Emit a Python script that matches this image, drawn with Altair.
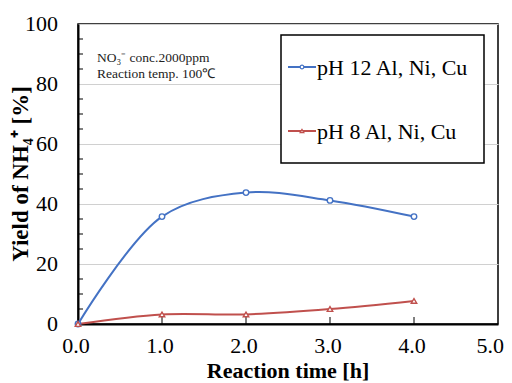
import altair as alt
import pandas as pd

# ---- data ----
time_h = [0, 1, 2, 3, 4]
ph12 = [0.0, 35.8, 43.8, 41.2, 35.8]
ph8 = [0.0, 3.2, 3.2, 5.0, 7.7]
series = ["pH 12 Al, Ni, Cu", "pH 8 Al, Ni, Cu"]
x_ticks = [0, 1, 2, 3, 4, 5]
x_inner_ticks = [1, 2, 3, 4]
y_ticks = [0, 20, 40, 60, 80, 100]
y_minor = [5, 10, 15, 25, 30, 35, 45, 50, 55, 65, 70, 75, 85, 90, 95]
note_lines = ["NO\u2083\u207b conc.2000ppm", "Reaction temp. 100\u2103"]
x_title = "Reaction time [h]"
y_title = "Yield of NH\u2084\u207a [%]"

colors = ["#4472C4", "#C0504D"]
shapes = ["circle", "triangle-up"]
SERIF = "Liberation Serif"

df = pd.DataFrame({
    "t": time_h * 2,
    "y": ph12 + ph8,
    "s": [series[0]] * len(time_h) + [series[1]] * len(time_h),
})

xscale = alt.Scale(domain=[0, 5], nice=False, zero=False)
yscale = alt.Scale(domain=[0, 100], nice=False)

axis_common = dict(labels=False, ticks=False, title=None, domainColor="black", domainWidth=2)


def x_enc():
    return alt.X("t:Q", scale=xscale, axis=alt.Axis(values=x_ticks, grid=False, **axis_common))


def y_enc():
    return alt.Y("y:Q", scale=yscale, axis=alt.Axis(values=y_ticks, grid=True, gridColor="#d0d0d0",
                                                    **axis_common))


color_scale = alt.Scale(domain=series, range=colors)

lines = alt.Chart(df).mark_line(interpolate="catmull-rom", strokeWidth=2).encode(
    x=x_enc(), y=y_enc(),
    color=alt.Color("s:N", scale=color_scale, legend=None),
)

points = alt.Chart(df).mark_point(filled=True, fill="white", strokeWidth=1.4, size=30, opacity=1).encode(
    x=x_enc(), y=y_enc(),
    stroke=alt.Stroke("s:N", scale=color_scale, legend=None),
    shape=alt.Shape("s:N", scale=alt.Scale(domain=series, range=shapes), legend=None),
)

minor = alt.Chart(pd.DataFrame({"y": y_minor})).mark_rule(color="black", strokeWidth=1).encode(
    y=y_enc(), x=alt.value(0), x2=alt.value(5),
)

xinner = alt.Chart(pd.DataFrame({"t": x_inner_ticks})).mark_rule(color="black", strokeWidth=1).encode(
    x=x_enc(), y=alt.value(300), y2=alt.value(293),
)

# tick labels as serif text, positioned through the scales
xt = pd.DataFrame({"t": x_ticks, "lab": [f"{v:.1f}" for v in x_ticks]})
xlabels_mid = alt.Chart(xt).transform_filter("datum.t < 5").mark_text(
    font=SERIF, fontSize=22, color="black", align="center", baseline="alphabetic", dx=-2,
).encode(x=x_enc(), y=alt.value(329), text="lab:N")
xlabels_last = alt.Chart(xt).transform_filter("datum.t == 5").mark_text(
    font=SERIF, fontSize=22, color="black", align="right", baseline="alphabetic", dx=6,
).encode(x=x_enc(), y=alt.value(329), text="lab:N")

yt = pd.DataFrame({"y": y_ticks, "lab": [str(v) for v in y_ticks]})
ylabels = alt.Chart(yt).mark_text(
    font=SERIF, fontSize=22, color="black", align="right", baseline="middle",
).encode(y=y_enc(), x=alt.value(-20), text="lab:N")

one = pd.DataFrame({"a": [0]})

xtitle = alt.Chart(one).mark_text(font=SERIF, fontSize=22, fontWeight="bold", color="black",
                                  align="center", baseline="alphabetic", text=x_title).encode(
    x=alt.value(210), y=alt.value(354))
ytitle = alt.Chart(one).mark_text(font=SERIF, fontSize=23, fontWeight="bold", color="black",
                                  align="center", baseline="alphabetic", angle=270, text=y_title).encode(
    x=alt.value(-50), y=alt.value(150))

notes = [
    alt.Chart(one).mark_text(align="left", baseline="middle", font=SERIF, fontSize=13.5, color="#222",
                             text=txt).encode(x=alt.value(19), y=alt.value(34 + 16 * i))
    for i, txt in enumerate(note_lines)
]

legend_box = alt.Chart(one).mark_rect(fill="white", stroke="black", strokeWidth=1.5).encode(
    x=alt.value(203), x2=alt.value(406), y=alt.value(11), y2=alt.value(139),
)

legend_layers = []
for i, name in enumerate(series):
    yy = 43 + 64 * i
    legend_layers.append(alt.Chart(one).mark_rule(color=colors[i], strokeWidth=2).encode(
        x=alt.value(210), x2=alt.value(238), y=alt.value(yy)))
    legend_layers.append(alt.Chart(one).mark_point(filled=True, fill="white", stroke=colors[i],
                                                   strokeWidth=1.2, size=14, shape=shapes[i], opacity=1).encode(
        x=alt.value(224), y=alt.value(yy)))
    legend_layers.append(alt.Chart(one).mark_text(align="left", baseline="middle", font=SERIF,
                                                  fontSize=22, color="black", text=name).encode(
        x=alt.value(239), y=alt.value(yy + 1)))

chart = alt.layer(
    minor, xinner, lines, points, xlabels_mid, xlabels_last, ylabels, xtitle, ytitle,
    *notes, legend_box, *legend_layers
).properties(
    width=420, height=300,
    autosize=alt.AutoSizeParams(type="none"),
    padding={"left": 70, "top": 16, "right": 6, "bottom": 59},
).configure_view(
    stroke="black", strokeWidth=1.5,
)

chart.save("out.html", embed_options={"renderer": "svg", "actions": False})
